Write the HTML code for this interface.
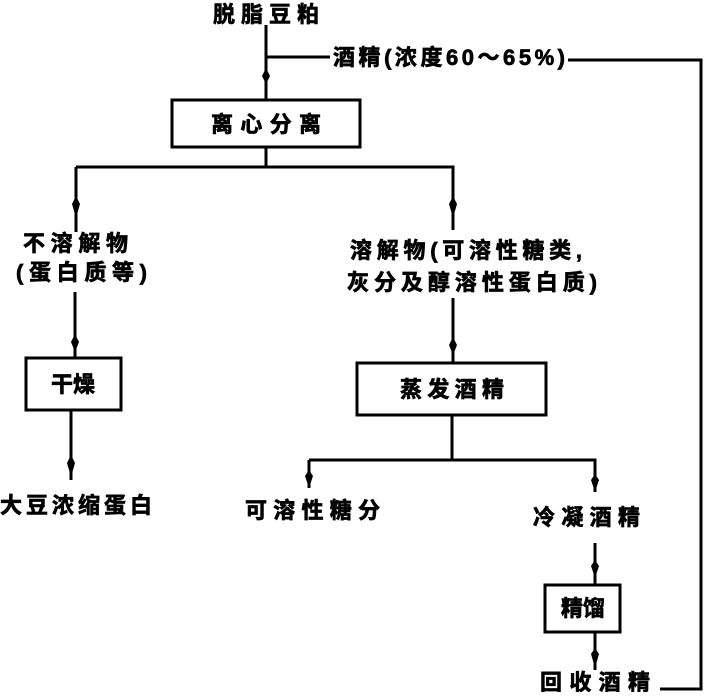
<!DOCTYPE html>
<html><head><meta charset="utf-8"><style>
body{margin:0;background:#fff;}
svg text{font-family:"Liberation Sans","Noto Sans CJK SC",sans-serif;font-weight:bold;fill:#000;stroke:#000;stroke-width:0.7;}
</style></head><body>
<svg width="705" height="692" viewBox="0 0 705 692" xmlns="http://www.w3.org/2000/svg">
<g stroke="#000" stroke-width="3" fill="none">
<path d="M266 25 V100"/>
<path d="M266 57 H330"/>
<path d="M568 60 H701 V689 H660"/>
<rect x="172" y="100" width="188" height="47"/>
<path d="M266 147 V167 M76 167 H453 V230 M76 167 V232"/>
<path d="M75 292 V358"/>
<rect x="26" y="358" width="95" height="52"/>
<path d="M71 410 V480"/>
<path d="M453 298 V363"/>
<rect x="357" y="363" width="189" height="52"/>
<path d="M452 415 V460 M309 460 H595 V492 M309 460 V488"/>
<path d="M595 543 V585"/>
<rect x="545" y="585" width="75" height="47"/>
<path d="M595 632 V670"/>
</g>
<g fill="#000">
<path d="M266 68 l4 8 l-4 8 l-4 -8z"/>
<path d="M76 196 l4 8 l-4 14 l-4 -14z"/>
<path d="M453 196 l4 8 l-4 14 l-4 -14z"/>
<path d="M75 334 l4 8 l-4 10 l-4 -10z"/>
<path d="M71 455 l4 8 l-4 14 l-4 -14z"/>
<path d="M453 337 l4 8 l-4 10 l-4 -10z"/>
<path d="M309 470 l4 6 l-4 12 l-4 -12z"/>
<path d="M595 474 l4 6 l-4 12 l-4 -12z"/>
<path d="M595 560 l4 6 l-4 12 l-4 -12z"/>
<path d="M595 648 l4 6 l-4 14 l-4 -14z"/>
</g>
<g font-size="22">
<text x="213" y="22" textLength="106">脱脂豆粕</text>
<text x="333" y="65" textLength="232">酒精(浓度60～65%)</text>
<text x="266" y="132" text-anchor="middle" textLength="110">离心分离</text>
<text x="23" y="251" textLength="105">不溶解物</text>
<text x="16" y="280" textLength="131">(蛋白质等)</text>
<text x="73" y="392" text-anchor="middle">干燥</text>
<text x="0" y="513" textLength="152">大豆浓缩蛋白</text>
<text x="350" y="258" textLength="232">溶解物(可溶性糖类,</text>
<text x="347" y="290" textLength="250">灰分及醇溶性蛋白质)</text>
<text x="452" y="397" text-anchor="middle" textLength="104">蒸发酒精</text>
<text x="245" y="518" textLength="135">可溶性糖分</text>
<text x="533" y="525" textLength="107">冷凝酒精</text>
<text x="583" y="616" text-anchor="middle">精馏</text>
<text x="540" y="690" textLength="110">回收酒精</text>
</g>
</svg>
</body></html>
